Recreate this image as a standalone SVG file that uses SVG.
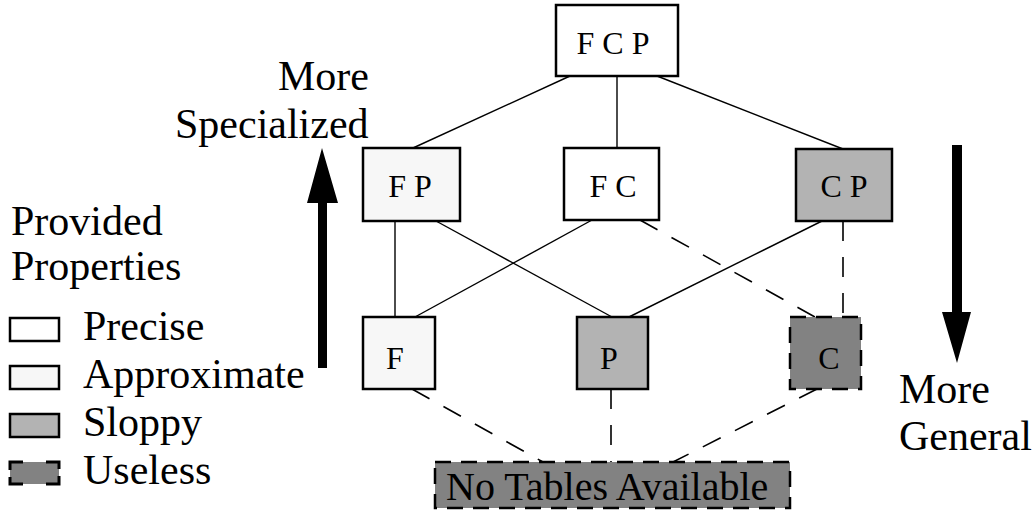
<svg xmlns="http://www.w3.org/2000/svg" width="1036" height="512" viewBox="0 0 1036 512">
<style>
text{font-family:"Liberation Serif","Times New Roman",serif;fill:#000}
.lbl{font-size:42px}
.nl{font-size:32px;text-anchor:middle}
.box{stroke:#000;stroke-width:2.5}
.dbox{stroke:#000;stroke-width:2.5;stroke-dasharray:16 10}
.w{fill:#fff}.a{fill:#f7f7f7}.s{fill:#b3b3b3}.u{fill:#828282}
.ln{stroke:#000;stroke-width:1.4;fill:none}
.dl{stroke:#000;stroke-width:1.6;fill:none;stroke-dasharray:20 16}
</style>
<rect width="1036" height="512" fill="#fff"/>
<g id="connectors">
<line class="ln" x1="570" y1="76" x2="413" y2="148"/>
<line class="ln" x1="617" y1="76" x2="617" y2="148"/>
<line class="ln" x1="657" y1="76" x2="843" y2="149"/>
<line class="ln" x1="395" y1="221" x2="395" y2="317"/>
<line class="ln" x1="436" y1="221" x2="612" y2="317"/>
<line class="ln" x1="592" y1="220" x2="415" y2="317"/>
<line class="dl" x1="640" y1="220" x2="815" y2="317"/>
<line class="ln" x1="822" y1="221" x2="629" y2="317"/>
<line class="dl" x1="843" y1="221" x2="843" y2="317"/>
<line class="dl" x1="412" y1="389" x2="543" y2="462"/>
<line class="dl" x1="611" y1="389" x2="611" y2="462"/>
<line class="dl" x1="817" y1="389" x2="673" y2="462"/>
</g>
<g id="node-FCP"><rect class="box w" x="556" y="5" width="122" height="71"/><text class="nl" x="613" y="54">F C P</text></g>
<g id="node-FP"><rect class="box a" x="363" y="148" width="97" height="73"/><text class="nl" x="410" y="197">F P</text></g>
<g id="node-FC"><rect class="box w" x="564" y="148" width="95" height="72"/><text class="nl" x="613" y="197">F C</text></g>
<g id="node-CP"><rect class="box s" x="796" y="149" width="96" height="72"/><text class="nl" x="844" y="197">C P</text></g>
<g id="node-F"><rect class="box a" x="363" y="317" width="72" height="72"/><text class="nl" x="395" y="369">F</text></g>
<g id="node-P"><rect class="box s" x="577" y="317" width="71" height="72"/><text class="nl" x="609" y="369">P</text></g>
<g id="node-C"><rect class="dbox u" x="790" y="317" width="71" height="72"/><text class="nl" x="829" y="369">C</text></g>
<g id="node-none"><rect class="dbox u" x="435" y="462" width="355" height="46"/><text x="446" y="500" style="font-size:40px">No Tables Available</text></g>
<g id="arrow-up"><polygon points="322,148 338,203 327,203 327,368 318,368 318,203 307,203" fill="#000"/></g>
<g id="arrow-down"><polygon points="952,145 962,145 962,312 971,312 957,363 942,312 952,312" fill="#000"/></g>
<g id="labels">
<text class="lbl" x="278" y="90">More</text>
<text class="lbl" x="175" y="138">Specialized</text>
<text class="lbl" x="11" y="235">Provided</text>
<text class="lbl" x="11" y="280">Properties</text>
<text class="lbl" x="899" y="403">More</text>
<text class="lbl" x="899" y="450">General</text>
</g>
<g id="legend">
<rect class="box w" x="10" y="318" width="49" height="23" stroke-width="3"/>
<text class="lbl" x="83" y="340">Precise</text>
<rect class="box a" x="10" y="366" width="49" height="23" stroke-width="3"/>
<text class="lbl" x="83" y="388">Approximate</text>
<rect class="box s" x="10" y="414" width="49" height="23" stroke-width="3"/>
<text class="lbl" x="83" y="436">Sloppy</text>
<rect x="10" y="462" width="49" height="22" fill="#828282" stroke="#000" stroke-width="3" stroke-dasharray="13 23 20 7 21 23 20 7 8"/>
<text class="lbl" x="83" y="484">Useless</text>
</g>
</svg>
